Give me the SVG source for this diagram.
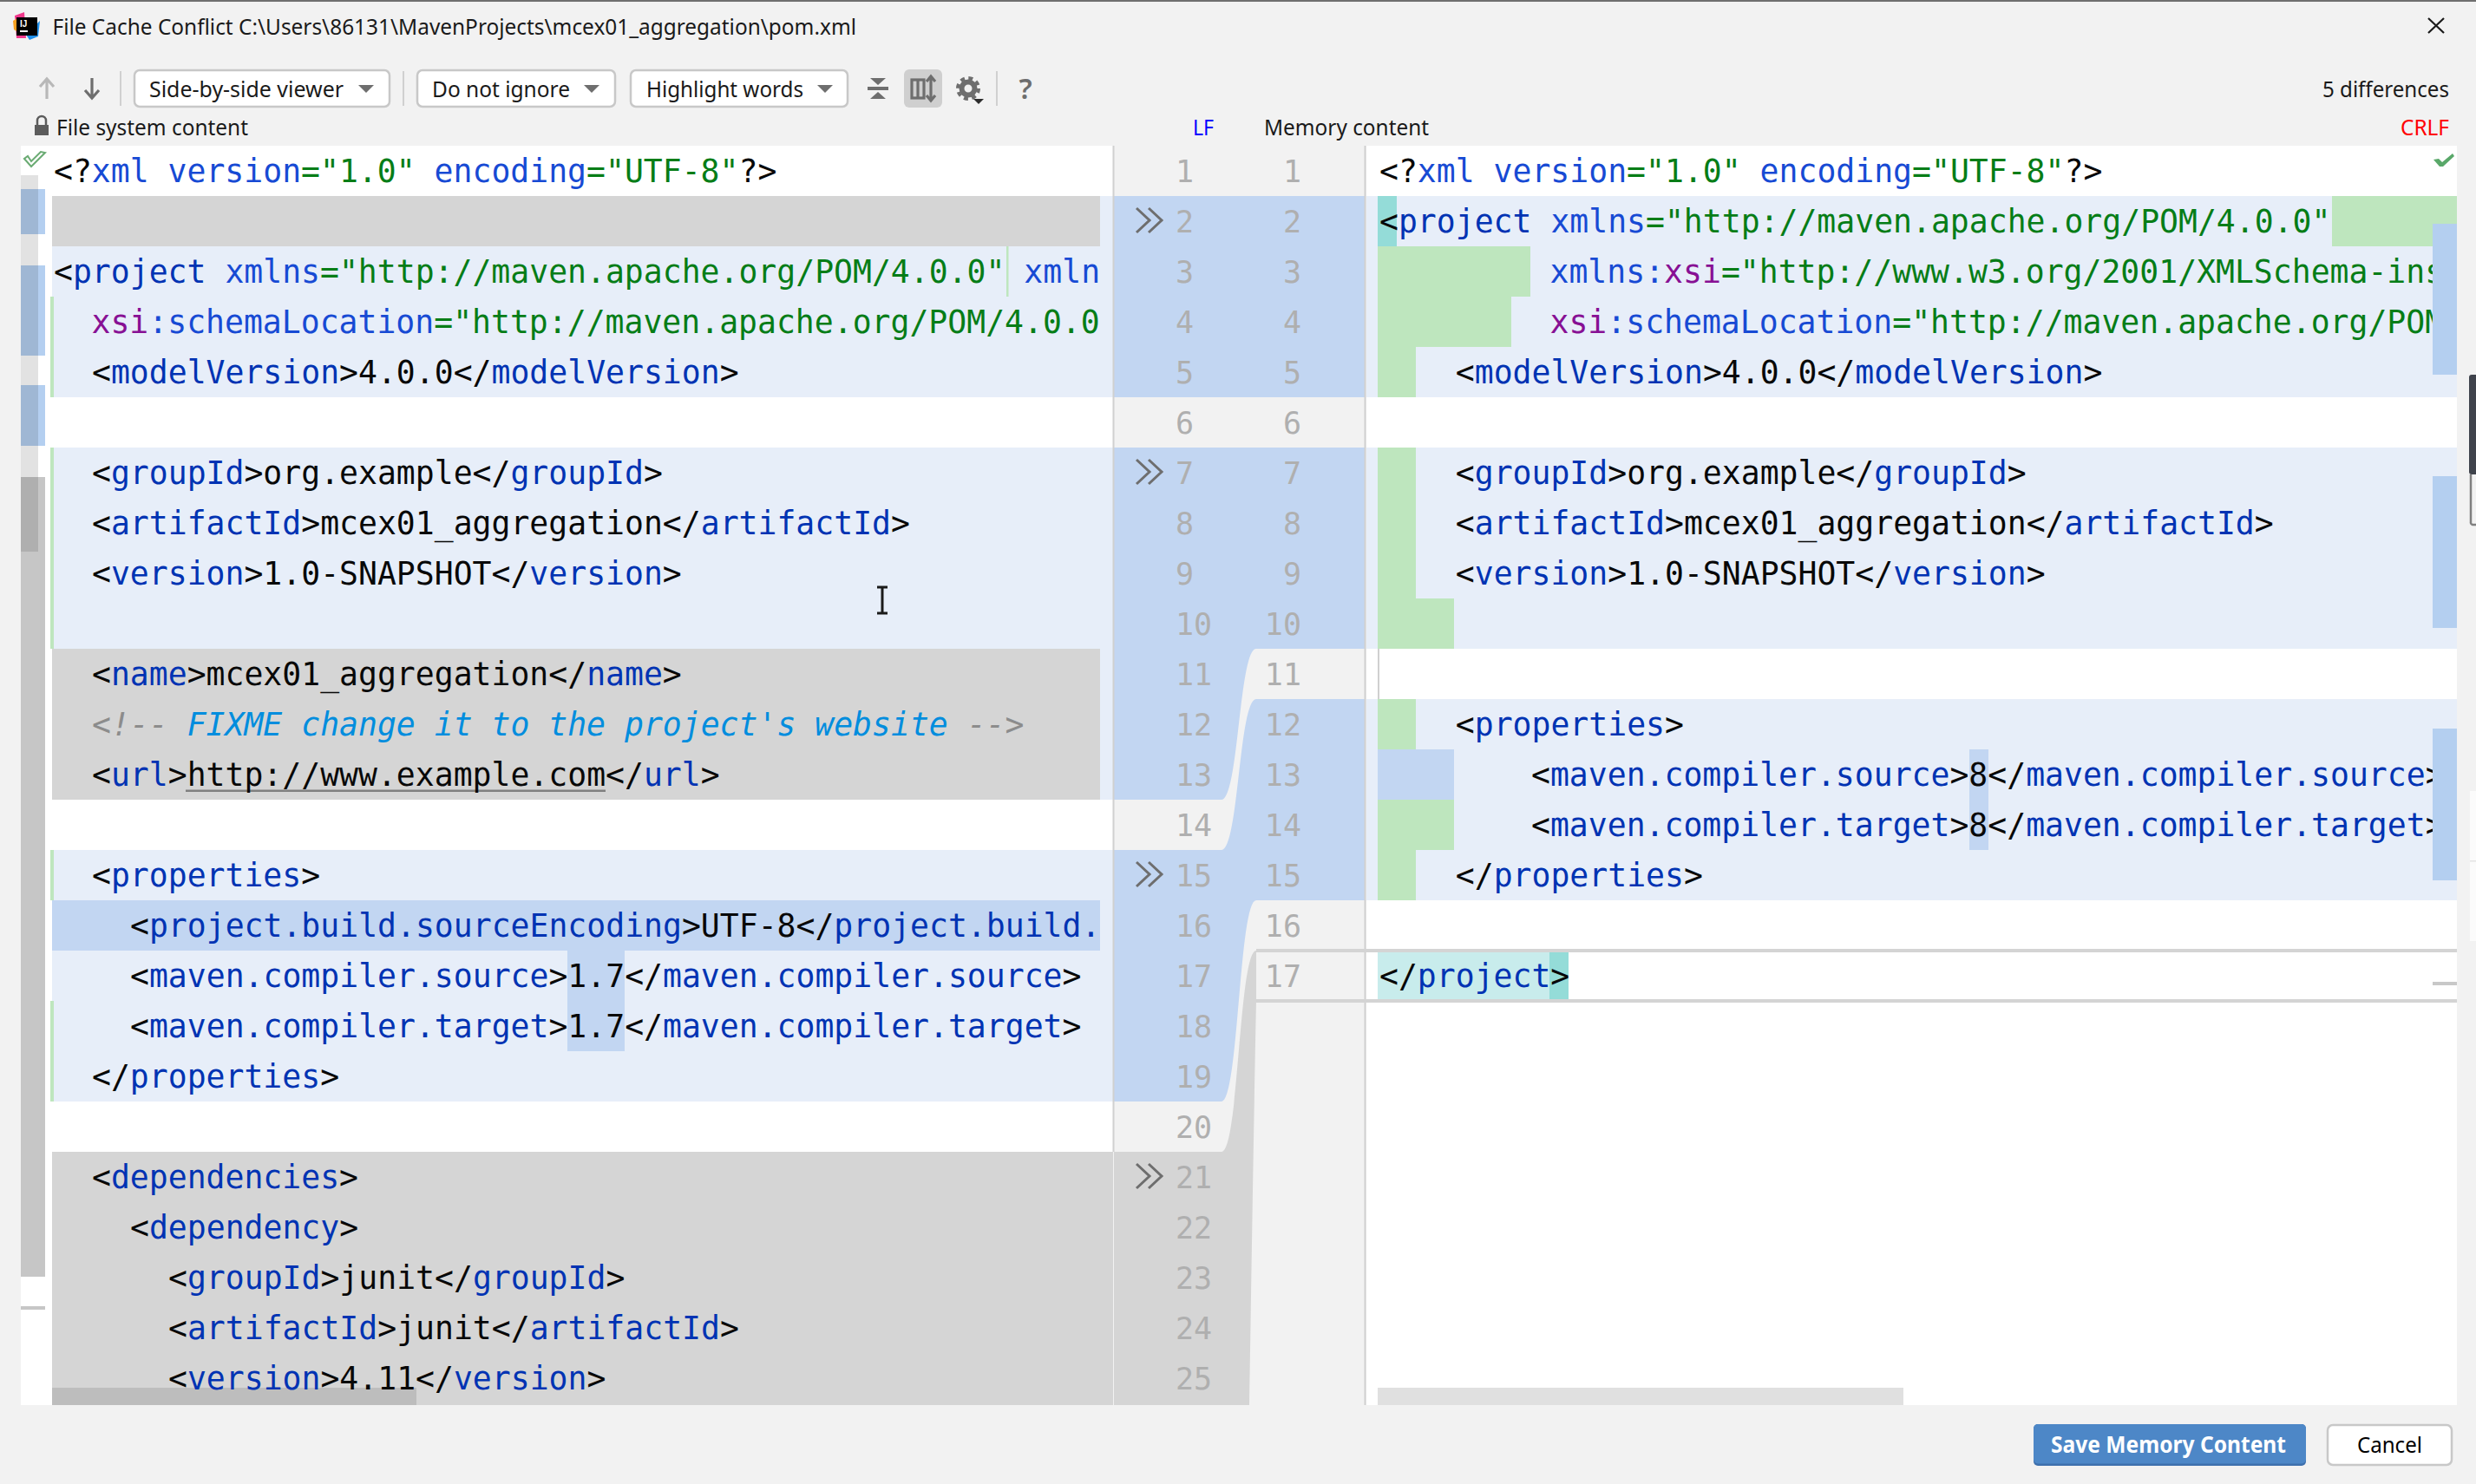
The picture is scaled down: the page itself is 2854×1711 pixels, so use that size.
<svg xmlns="http://www.w3.org/2000/svg" width="2854" height="1711" viewBox="0 0 2854 1711">
<style>
text{white-space:pre}
.c{font-family:"DejaVu Sans Mono",monospace;font-size:36.44px;fill:#080808}
.n{fill:#0033b3}.a{fill:#174ad4}.v{fill:#067d17}.p{fill:#871094}.g{fill:#8c8c8c;font-style:italic}.f{fill:#008dde;font-style:italic}
.ln{font-family:"DejaVu Sans Mono",monospace;font-size:35px;fill:#afafaf}
.r{text-anchor:end}
.u{font-family:"Noto Sans","Open Sans",sans-serif;font-size:26px;fill:#1a1a1a}
.lb{fill:#e7eef9}.sb{fill:#c2d6f2}.gr{fill:#d5d5d5}.gn{fill:#bee6be}.st{fill:#b4cff0}.tl{fill:#94dcd8}
.dd{fill:#fff;stroke:#c8c8c8;stroke-width:2.5}
.ic{fill:#6e6e6e}.il{fill:none;stroke:#6e6e6e;stroke-width:3.2}
.sep{fill:#d0d0d0}
</style>
<defs>
<clipPath id="cl"><rect x="24" y="168" width="1245" height="1452"/></clipPath>
<clipPath id="cr"><rect x="1575" y="168" width="1229" height="1452"/></clipPath>
<path id="chev" d="M1310,-14L1325,0L1310,14M1324,-14L1339,0L1324,14" fill="none" stroke="#6e6e6e" stroke-width="3"/>
<path id="tri" d="M0,0H18L9,9Z" fill="#6e6e6e"/>
</defs>
<rect width="2854" height="1711" fill="#f2f2f2"/>
<rect width="2854" height="2" fill="#6f6f6f"/>

<g id="titlebar">
<path d="M17,18L28,14L30,44L19,44Z" fill="#f0388c"/><path d="M15,24L22,20L22,38L16,34Z" fill="#f8a020"/><path d="M30,40L46,24L44,42L34,46Z" fill="#1e8ee8"/>
<rect x="19" y="20" width="24" height="21" fill="#000"/><text x="23" y="31" font-family="Liberation Sans,sans-serif" font-size="10" font-weight="bold" fill="#fff">IJ</text><rect x="23" y="35" width="9" height="2" fill="#fff"/>
<text class="u" x="60.5" y="40" textLength="926.5" lengthAdjust="spacingAndGlyphs">File Cache Conflict C:\Users\86131\MavenProjects\mcex01_aggregation\pom.xml</text>
<path d="M2799,21L2817,38M2817,21L2799,38" stroke="#1a1a1a" stroke-width="2.2" fill="none"/>
</g>

<g id="toolbar">
<path d="M54,114V92M46,100L54,91L62,100" fill="none" stroke="#b8b8b8" stroke-width="3.2"/>
<path d="M106,90V112M98,104L106,113L114,104" fill="none" stroke="#6e6e6e" stroke-width="3.2"/>
<rect class="sep" x="138" y="82" width="2" height="40"/>
<rect class="dd" x="155" y="81" width="294" height="42" rx="6"/>
<text class="u" x="172" y="112" textLength="224" lengthAdjust="spacingAndGlyphs">Side-by-side viewer</text>
<use href="#tri" x="413" y="98"/>
<rect class="sep" x="464" y="82" width="2" height="40"/>
<rect class="dd" x="481" y="81" width="228" height="42" rx="6"/>
<text class="u" x="498" y="112" textLength="159" lengthAdjust="spacingAndGlyphs">Do not ignore</text>
<use href="#tri" x="673" y="98"/>
<rect class="dd" x="727" y="81" width="250" height="42" rx="6"/>
<text class="u" x="745" y="112" textLength="181" lengthAdjust="spacingAndGlyphs">Highlight words</text>
<use href="#tri" x="942" y="98"/>
<path class="ic" d="M1003,90H1021L1012,98ZM1012,106L1021,114H1003Z"/><rect class="ic" x="1000" y="100" width="24" height="4"/>
<rect x="1042" y="80" width="44" height="44" rx="6" fill="#cfcfcf"/>
<rect class="il" x="1051" y="92" width="14" height="21" stroke-width="2.5"/><path class="il" d="M1058,92V113"/>
<path class="il" d="M1073,90V114M1068,94L1073,88L1078,94M1068,110L1073,116L1078,110"/>
<circle cx="1116" cy="102" r="7.5" fill="none" stroke="#6e6e6e" stroke-width="6"/>
<circle cx="1116" cy="102" r="12" fill="none" stroke="#6e6e6e" stroke-width="4" stroke-dasharray="5 4.42"/>
<path d="M1122,114H1134L1128,120Z" fill="#2c2c2c"/>
<rect class="sep" x="1148" y="82" width="2" height="40"/>
<text x="1182" y="114" text-anchor="middle" font-family="Noto Sans,sans-serif" font-size="33" font-weight="600" fill="#6e6e6e">?</text>
<text class="u" x="2677" y="112" textLength="146" lengthAdjust="spacingAndGlyphs">5 differences</text>
<rect x="40" y="144" width="16" height="12" fill="#5c5c5c"/><path d="M43,144V139A5,5 0 0 1 53,139V144" fill="none" stroke="#5c5c5c" stroke-width="2.5"/>
<text class="u" x="65" y="156" textLength="221" lengthAdjust="spacingAndGlyphs">File system content</text>
<text class="u" x="1375" y="156" textLength="24" lengthAdjust="spacingAndGlyphs" style="fill:#0000ff">LF</text>
<text class="u" x="1457" y="156" textLength="190" lengthAdjust="spacingAndGlyphs">Memory content</text>
<text class="u" x="2767" y="156" textLength="56" lengthAdjust="spacingAndGlyphs" style="fill:#ff0000">CRLF</text>
</g>

<g id="left-editor">
<rect x="24" y="168" width="1259" height="1452" fill="#fff"/>
<rect class="lb" x="60" y="226" width="1223" height="232"/>
<rect class="gr" x="60" y="226" width="1208" height="58"/>
<rect class="lb" x="60" y="516" width="1223" height="406"/>
<rect class="gr" x="60" y="748" width="1208" height="174"/>
<rect class="lb" x="60" y="980" width="1223" height="290"/>
<rect class="sb" x="60" y="1038" width="1208" height="58"/>
<rect class="sb" x="654" y="1096" width="66" height="116"/>
<rect class="gr" x="60" y="1328" width="1223" height="292"/>
<rect class="gn" x="58" y="342" width="4" height="116"/>
<rect class="gn" x="58" y="516" width="4" height="232"/>
<rect class="gn" x="58" y="980" width="4" height="58"/>
<rect class="gn" x="58" y="1154" width="4" height="116"/>
<rect class="gn" x="1160" y="284" width="2.5" height="58"/>
<rect x="214" y="910.5" width="484" height="2.5" fill="#808080"/>
<rect x="60" y="1600" width="420" height="20" fill="#bdbdbd"/>
<g clip-path="url(#cl)"><g transform="translate(0,1)">
<text class="c" x="62" y="209">&lt;?<tspan class="a">xml version</tspan><tspan class="v">="1.0"</tspan> <tspan class="a">encoding</tspan><tspan class="v">="UTF-8"</tspan>?&gt;</text>
<text class="c" x="62" y="325">&lt;<tspan class="n">project</tspan> <tspan class="a">xmlns</tspan><tspan class="v">="http://maven.apache.org/POM/4.0.0"</tspan> <tspan class="a">xmln</tspan></text>
<text class="c" x="105.5" y="383"><tspan class="p">xsi</tspan><tspan class="a">:schemaLocation</tspan><tspan class="v">="http://maven.apache.org/POM/4.0.0</tspan></text>
<text class="c" x="106" y="441">&lt;<tspan class="n">modelVersion</tspan>&gt;4.0.0&lt;/<tspan class="n">modelVersion</tspan>&gt;</text>
<text class="c" x="106" y="557">&lt;<tspan class="n">groupId</tspan>&gt;org.example&lt;/<tspan class="n">groupId</tspan>&gt;</text>
<text class="c" x="106" y="615">&lt;<tspan class="n">artifactId</tspan>&gt;mcex01_aggregation&lt;/<tspan class="n">artifactId</tspan>&gt;</text>
<text class="c" x="106" y="673">&lt;<tspan class="n">version</tspan>&gt;1.0-SNAPSHOT&lt;/<tspan class="n">version</tspan>&gt;</text>
<text class="c" x="106" y="789">&lt;<tspan class="n">name</tspan>&gt;mcex01_aggregation&lt;/<tspan class="n">name</tspan>&gt;</text>
<text class="c" x="106" y="847"><tspan class="g">&lt;!-- </tspan><tspan class="f">FIXME change it to the project's website</tspan><tspan class="g"> --&gt;</tspan></text>
<text class="c" x="106" y="905">&lt;<tspan class="n">url</tspan>&gt;http://www.example.com&lt;/<tspan class="n">url</tspan>&gt;</text>
<text class="c" x="106" y="1021">&lt;<tspan class="n">properties</tspan>&gt;</text>
<text class="c" x="150" y="1079">&lt;<tspan class="n">project.build.sourceEncoding</tspan>&gt;UTF-8&lt;/<tspan class="n">project.build.</tspan></text>
<text class="c" x="150" y="1137">&lt;<tspan class="n">maven.compiler.source</tspan>&gt;1.7&lt;/<tspan class="n">maven.compiler.source</tspan>&gt;</text>
<text class="c" x="150" y="1195">&lt;<tspan class="n">maven.compiler.target</tspan>&gt;1.7&lt;/<tspan class="n">maven.compiler.target</tspan>&gt;</text>
<text class="c" x="106" y="1253">&lt;/<tspan class="n">properties</tspan>&gt;</text>
<text class="c" x="106" y="1369">&lt;<tspan class="n">dependencies</tspan>&gt;</text>
<text class="c" x="150" y="1427">&lt;<tspan class="n">dependency</tspan>&gt;</text>
<text class="c" x="194" y="1485">&lt;<tspan class="n">groupId</tspan>&gt;junit&lt;/<tspan class="n">groupId</tspan>&gt;</text>
<text class="c" x="194" y="1543">&lt;<tspan class="n">artifactId</tspan>&gt;junit&lt;/<tspan class="n">artifactId</tspan>&gt;</text>
<text class="c" x="194" y="1601">&lt;<tspan class="n">version</tspan>&gt;4.11&lt;/<tspan class="n">version</tspan>&gt;</text>
</g></g>
<rect class="st" x="24" y="218" width="28" height="52"/>
<rect class="st" x="24" y="306" width="28" height="104"/>
<rect class="st" x="24" y="444" width="28" height="70"/>
<rect x="24" y="550" width="28" height="922" fill="#c6c6c6"/>
<rect x="24" y="1506" width="28" height="4" fill="#c6c6c6"/>
<rect x="24" y="202" width="20" height="434" fill="#000" opacity="0.115"/>
<path d="M28,183L36,192L52,176L47,175L36,186L32,180Z" fill="none" stroke="#6aab73" stroke-width="2"/>
</g>

<g id="gutter">
<rect x="1284" y="168" width="289" height="1452" fill="#f2f2f2"/>
<rect class="sb" x="1284" y="226" width="289" height="232"/>
<path class="sb" d="M1284,516H1573V748H1448C1428,748 1428,922 1408,922H1284Z"/>
<path class="sb" d="M1284,980H1408C1428,980 1428,806 1448,806H1573V1038H1448C1428,1038 1428,1270 1408,1270H1284Z"/>
<path class="gr" d="M1284,1328H1408C1428,1328 1428,1096 1448,1096V1154C1445,1300 1442,1500 1440,1620H1284Z"/>
<rect class="sep" x="1282.5" y="168" width="2" height="1160"/>
<rect class="sep" x="1572.5" y="168" width="2" height="1452"/>
<use href="#chev" y="254"/><use href="#chev" y="544"/><use href="#chev" y="1008"/><use href="#chev" y="1356"/>
<g class="ln">
<text x="1355" y="210">1</text><text x="1355" y="268">2</text><text x="1355" y="326">3</text><text x="1355" y="384">4</text><text x="1355" y="442">5</text><text x="1355" y="500">6</text><text x="1355" y="558">7</text><text x="1355" y="616">8</text><text x="1355" y="674">9</text><text x="1355" y="732">10</text><text x="1355" y="790">11</text><text x="1355" y="848">12</text><text x="1355" y="906">13</text><text x="1355" y="964">14</text><text x="1355" y="1022">15</text><text x="1355" y="1080">16</text><text x="1355" y="1138">17</text><text x="1355" y="1196">18</text><text x="1355" y="1254">19</text><text x="1355" y="1312">20</text><text x="1355" y="1370">21</text><text x="1355" y="1428">22</text><text x="1355" y="1486">23</text><text x="1355" y="1544">24</text><text x="1355" y="1602">25</text>
<g class="r"><text x="1500" y="210">1</text><text x="1500" y="268">2</text><text x="1500" y="326">3</text><text x="1500" y="384">4</text><text x="1500" y="442">5</text><text x="1500" y="500">6</text><text x="1500" y="558">7</text><text x="1500" y="616">8</text><text x="1500" y="674">9</text><text x="1500" y="732">10</text><text x="1500" y="790">11</text><text x="1500" y="848">12</text><text x="1500" y="906">13</text><text x="1500" y="964">14</text><text x="1500" y="1022">15</text><text x="1500" y="1080">16</text><text x="1500" y="1138">17</text></g>
</g>
</g>

<g id="right-editor">
<rect x="1575" y="168" width="1257" height="1452" fill="#fff"/>
<rect class="lb" x="1575" y="226" width="1257" height="232"/>
<rect class="lb" x="1575" y="516" width="1257" height="232"/>
<rect class="lb" x="1575" y="806" width="1257" height="232"/>
<rect class="tl" x="1588" y="226" width="22" height="58"/>
<rect class="gn" x="2688" y="226" width="144" height="58"/>
<rect class="gn" x="1588" y="284" width="176" height="58"/>
<rect class="gn" x="1588" y="342" width="154" height="58"/>
<rect class="gn" x="1588" y="400" width="44" height="58"/>
<rect class="gn" x="1588" y="516" width="44" height="174"/>
<rect class="gn" x="1588" y="690" width="88" height="58"/>
<rect x="1588" y="748" width="2" height="58" fill="#d0d0d0"/>
<rect class="gn" x="1588" y="806" width="44" height="58"/>
<rect class="sb" x="1588" y="864" width="88" height="58"/>
<rect class="gn" x="1588" y="922" width="88" height="58"/>
<rect class="gn" x="1588" y="980" width="44" height="58"/>
<rect class="sb" x="2270" y="864" width="22" height="116"/>
<rect x="1588" y="1098" width="198" height="54" fill="#c8ecec"/>
<rect class="tl" x="1786" y="1098" width="22" height="54"/>
<rect x="1448" y="1094" width="1384" height="4" fill="#d4d4d4"/>
<rect x="1448" y="1152" width="1384" height="4" fill="#d4d4d4"/>
<g clip-path="url(#cr)"><g transform="translate(0,1)">
<text class="c" x="1590" y="209">&lt;?<tspan class="a">xml version</tspan><tspan class="v">="1.0"</tspan> <tspan class="a">encoding</tspan><tspan class="v">="UTF-8"</tspan>?&gt;</text>
<text class="c" x="1590" y="267">&lt;<tspan class="n">project</tspan> <tspan class="a">xmlns</tspan><tspan class="v">="http://maven.apache.org/POM/4.0.0"</tspan></text>
<text class="c" x="1786.5" y="325"><tspan class="a">xmlns:</tspan><tspan class="p">xsi</tspan><tspan class="v">="http://www.w3.org/2001/XMLSchema-ins</tspan></text>
<text class="c" x="1786.5" y="383"><tspan class="p">xsi</tspan><tspan class="a">:schemaLocation</tspan><tspan class="v">="http://maven.apache.org/POM</tspan></text>
<text class="c" x="1677.8" y="441">&lt;<tspan class="n">modelVersion</tspan>&gt;4.0.0&lt;/<tspan class="n">modelVersion</tspan>&gt;</text>
<text class="c" x="1677.8" y="557">&lt;<tspan class="n">groupId</tspan>&gt;org.example&lt;/<tspan class="n">groupId</tspan>&gt;</text>
<text class="c" x="1677.8" y="615">&lt;<tspan class="n">artifactId</tspan>&gt;mcex01_aggregation&lt;/<tspan class="n">artifactId</tspan>&gt;</text>
<text class="c" x="1677.8" y="673">&lt;<tspan class="n">version</tspan>&gt;1.0-SNAPSHOT&lt;/<tspan class="n">version</tspan>&gt;</text>
<text class="c" x="1677.8" y="847">&lt;<tspan class="n">properties</tspan>&gt;</text>
<text class="c" x="1765" y="905">&lt;<tspan class="n">maven.compiler.source</tspan>&gt;8&lt;/<tspan class="n">maven.compiler.source</tspan>&gt;</text>
<text class="c" x="1765" y="963">&lt;<tspan class="n">maven.compiler.target</tspan>&gt;8&lt;/<tspan class="n">maven.compiler.target</tspan>&gt;</text>
<text class="c" x="1677.8" y="1021">&lt;/<tspan class="n">properties</tspan>&gt;</text>
<text class="c" x="1590" y="1137">&lt;/<tspan class="n">project</tspan>&gt;</text>
</g></g>
<rect x="1588" y="1600" width="606" height="20" fill="#e0e0e0"/>
<rect class="st" x="2804" y="258" width="28" height="174"/>
<rect class="st" x="2804" y="549" width="28" height="175"/>
<rect class="st" x="2804" y="840" width="28" height="175"/>
<rect x="2804" y="1132" width="28" height="4" fill="#c8c8c8"/>
<path d="M2805,184L2811,183L2815,187L2827,177L2829,180L2816,192L2812,192Z" fill="#59a869"/>
</g>

<g id="buttons">
<rect x="2344" y="1642" width="314" height="48" rx="5" fill="#3e70ad"/>
<rect x="2344" y="1642" width="314" height="45.5" rx="5" fill="#4d87c7"/>
<text class="u" x="2364" y="1675" textLength="271" lengthAdjust="spacingAndGlyphs" style="fill:#fff;font-weight:700">Save Memory Content</text>
<rect class="dd" x="2683" y="1643" width="143" height="46" rx="6"/>
<text class="u" x="2717" y="1675" textLength="75" lengthAdjust="spacingAndGlyphs" style="fill:#000">Cancel</text>
</g>

<g id="cursor">
<path d="M1011,677H1023M1017,677V707M1011,707H1023" fill="none" stroke="#1a1a1a" stroke-width="3"/>
</g>
<g id="screen-edge">
<rect x="2846" y="432" width="10" height="115" rx="3" fill="#3f434c"/>
<path d="M2856,605H2850A2.5,2.5 0 0 1 2848,602V547" fill="none" stroke="#808080" stroke-width="2.5"/>
<rect x="2847" y="912" width="8" height="173" fill="#fbfbfb"/>
<rect x="2847" y="992" width="8" height="1.5" fill="#e4e4e4"/>
</g>
</svg>
